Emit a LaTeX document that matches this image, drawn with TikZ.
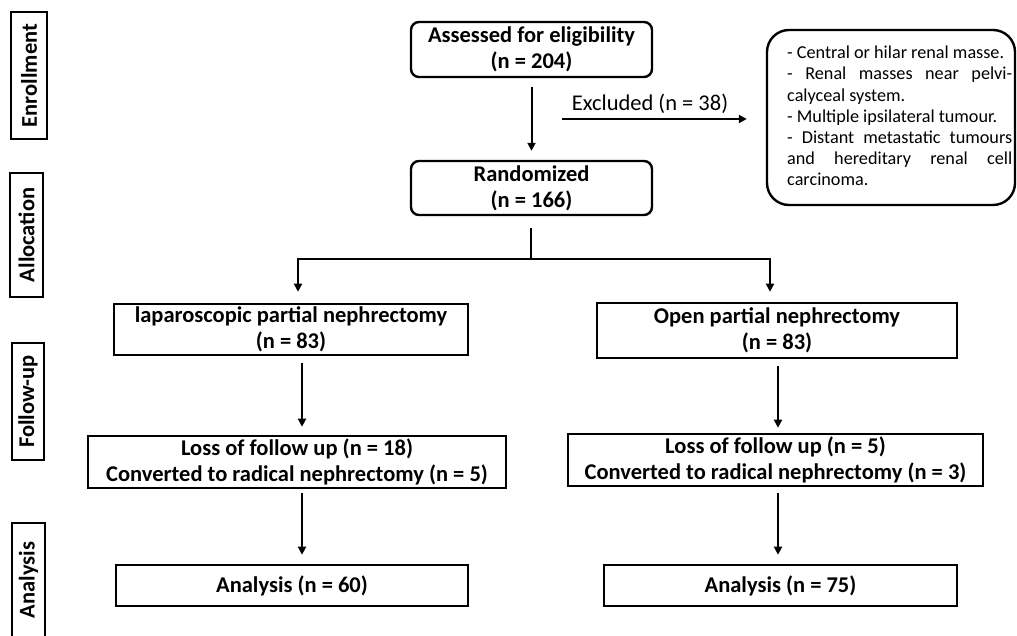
\documentclass[tikz,border=0pt]{standalone}
\usepackage{fontspec}
\setmainfont{Carlito}
\usetikzlibrary{arrows.meta}
\begin{document}
\begin{tikzpicture}[x=1pt,y=-1pt,
  every node/.style={font=\fontsize{22.5}{26}\selectfont\bfseries},
  lblbox/.style={draw, line width=2pt, inner sep=0pt, rotate=90},
  rbox/.style={draw, line width=2.4pt, rounded corners=8pt, inner sep=0pt, align=center},
  sbox/.style={draw, line width=2.6pt, inner sep=0pt, align=center},
  arr/.style={line width=2pt, -{Triangle[length=8pt,width=8pt]}},
  ln/.style={line width=2pt}]
\useasboundingbox (0,0) rectangle (1017,636);

% phase labels
\node[lblbox, minimum width=127pt, minimum height=36pt] (enr) at (29,75.5) {Enrollment};
\node[lblbox, minimum width=124pt, minimum height=33pt] (alloc) at (26.5,235) {Allocation};
\node[lblbox, minimum width=117pt, minimum height=32pt] (fup) at (28,401.5) {Follow-up};
\node[rotate=90, inner sep=0pt] (anal) at (28.5,580) {Analysis};
\draw[line width=2pt] (12,640) -- (12,523) -- (45,523) -- (45,640);

% main boxes
\node[rbox, minimum width=241pt, minimum height=55pt] (assess) at (531.5,49.5) {Assessed for eligibility\\(n = 204)};
\node[rbox, minimum width=241pt, minimum height=54pt] (rand) at (531.5,188) {Randomized\\(n = 166)};
\node[draw, line width=2.4pt, rounded corners=22pt, minimum width=248pt, minimum height=175pt] (excl) at (891,117.5) {};
\node[anchor=north west, inner sep=0pt, font=\fontsize{18.2}{21.1}\selectfont\mdseries] (exclt) at (787,46) {\parbox{225pt}{%
- Central or hilar renal masse.\\
- Renal masses near pelvi-\linebreak
calyceal system.\\
- Multiple ipsilateral tumour.\\
- Distant metastatic tumours\linebreak
and hereditary renal cell\linebreak
carcinoma.}};

\node[sbox, minimum width=354pt, minimum height=51pt] (lpn) at (291,329.5) {laparoscopic partial nephrectomy\\(n = 83)};
\node[sbox, minimum width=360pt, minimum height=55pt] (open) at (777,330.5) {Open partial nephrectomy\\(n = 83)};
\node[sbox, minimum width=418pt, minimum height=52pt] (loss1) at (297,462) {Loss of follow up (n = 18)\\Converted to radical nephrectomy (n = 5)};
\node[sbox, minimum width=415pt, minimum height=52pt] (loss2) at (775.5,460) {Loss of follow up (n = 5)\\Converted to radical nephrectomy (n = 3)};
\node[sbox, minimum width=352pt, minimum height=41pt] (an1) at (292,585.5) {Analysis (n = 60)};
\node[sbox, minimum width=353pt, minimum height=41pt] (an2) at (780.5,585.5) {Analysis (n = 75)};

% connectors
\draw[arr, shorten <=9pt, shorten >=9pt] (assess.south) -- (rand.north);
\coordinate (ex0) at (562,119);
\draw[arr, shorten >=19pt] (ex0) -- (ex0 -| excl.west);
\node[font=\fontsize{22.5}{26}\selectfont\mdseries] (exl) at (650,104) {Excluded (n = 38)};

\coordinate (sp) at (531,259);
\coordinate (spl) at (298,259);
\coordinate (spr) at (770,259);
\draw[ln, shorten <=12pt] (rand.south -| sp) -- (sp);
\draw[arr, shorten >=11pt] (sp) -- (spl) -- (spl |- lpn.north);
\draw[arr, shorten >=10pt] (sp) -- (spr) -- (spr |- open.north);

\coordinate (cl) at (302,0);
\coordinate (cr) at (778,0);
\draw[arr, shorten <=7pt, shorten >=8pt] (lpn.south -| cl) -- (loss1.north -| cl);
\draw[arr, shorten <=7pt, shorten >=5pt] (open.south -| cr) -- (loss2.north -| cr);
\draw[arr, shorten <=4pt, shorten >=9pt] (loss1.south -| cl) -- (an1.north -| cl);
\draw[arr, shorten <=6pt, shorten >=9pt] (loss2.south -| cr) -- (an2.north -| cr);
\end{tikzpicture}
\end{document}
